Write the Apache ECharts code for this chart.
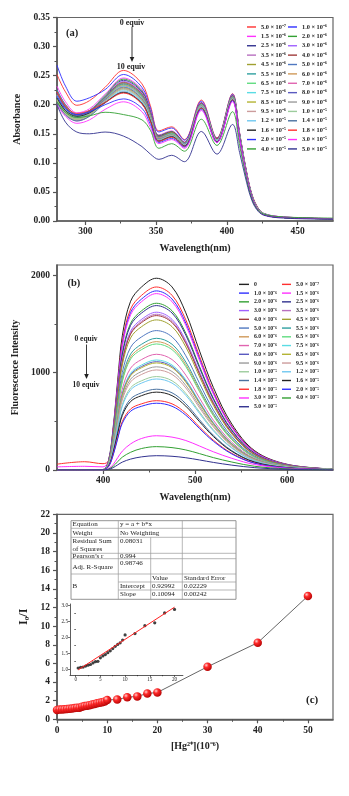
<!DOCTYPE html>
<html><head><meta charset="utf-8">
<script src="https://cdn.jsdelivr.net/npm/echarts@6/dist/echarts.min.js"></script>
<style>html,body{margin:0;padding:0;background:#fff}#c{width:349px;height:796px}</style>
</head><body><div id="c"></div><script>
// ---------------- DATA ----------------
const CONC_LABELS = ['0','5.0 × 10⁻⁷','1.0 × 10⁻⁶','1.5 × 10⁻⁶','2.0 × 10⁻⁶','2.5 × 10⁻⁶','3.0 × 10⁻⁶','3.5 × 10⁻⁶','4.0 × 10⁻⁶','4.5 × 10⁻⁶','5.0 × 10⁻⁶','5.5 × 10⁻⁶','6.0 × 10⁻⁶','6.5 × 10⁻⁶','7.0 × 10⁻⁶','7.5 × 10⁻⁶','8.0 × 10⁻⁶','8.5 × 10⁻⁶','9.0 × 10⁻⁶','9.5 × 10⁻⁶','1.0 × 10⁻⁵','1.2 × 10⁻⁵','1.4 × 10⁻⁵','1.6 × 10⁻⁵','1.8 × 10⁻⁵','2.0 × 10⁻⁵','3.0 × 10⁻⁵','4.0 × 10⁻⁵','5.0 × 10⁻⁵'];

// (a) absorption: wavelengths and one spectrum per concentration (index 1..28 of CONC_LABELS)
const WL_A = [280,286,294,303,314,327,340,346,352,361,370,382,393,404,409,413,417,421,426,440,475];
const ABS_SPECTRA = [
 [0.252,0.222,0.199,0.207,0.230,0.259,0.236,0.198,0.155,0.162,0.140,0.208,0.143,0.219,0.152,0.097,0.052,0.027,0.013,0.007,0.004],
 [0.268,0.232,0.206,0.212,0.226,0.252,0.230,0.194,0.153,0.160,0.139,0.206,0.142,0.218,0.151,0.096,0.051,0.026,0.013,0.007,0.004],
 [0.232,0.205,0.186,0.193,0.218,0.246,0.226,0.190,0.148,0.155,0.136,0.204,0.141,0.216,0.150,0.095,0.050,0.026,0.013,0.007,0.004],
 [0.225,0.200,0.183,0.190,0.216,0.244,0.224,0.188,0.147,0.154,0.135,0.203,0.141,0.216,0.150,0.095,0.050,0.026,0.013,0.006,0.004],
 [0.220,0.196,0.180,0.188,0.214,0.242,0.222,0.187,0.146,0.153,0.135,0.203,0.140,0.215,0.149,0.094,0.050,0.025,0.012,0.006,0.004],
 [0.214,0.190,0.175,0.184,0.212,0.240,0.220,0.185,0.145,0.152,0.134,0.202,0.140,0.215,0.149,0.094,0.049,0.025,0.012,0.006,0.004],
 [0.208,0.186,0.172,0.181,0.211,0.239,0.219,0.184,0.144,0.152,0.134,0.202,0.140,0.214,0.148,0.093,0.049,0.025,0.012,0.006,0.004],
 [0.222,0.197,0.182,0.189,0.213,0.238,0.218,0.184,0.145,0.153,0.135,0.202,0.141,0.215,0.149,0.094,0.049,0.025,0.012,0.006,0.004],
 [0.218,0.194,0.180,0.187,0.212,0.237,0.217,0.183,0.144,0.152,0.134,0.201,0.140,0.214,0.148,0.093,0.049,0.025,0.012,0.006,0.004],
 [0.226,0.200,0.184,0.190,0.213,0.236,0.216,0.182,0.144,0.151,0.134,0.201,0.140,0.214,0.148,0.093,0.049,0.025,0.012,0.006,0.004],
 [0.212,0.189,0.177,0.185,0.211,0.235,0.215,0.181,0.143,0.151,0.133,0.200,0.139,0.213,0.147,0.093,0.048,0.025,0.012,0.006,0.004],
 [0.216,0.192,0.179,0.186,0.211,0.234,0.214,0.180,0.143,0.150,0.133,0.200,0.139,0.213,0.147,0.092,0.048,0.024,0.012,0.006,0.004],
 [0.210,0.187,0.176,0.184,0.210,0.233,0.213,0.180,0.142,0.150,0.133,0.200,0.139,0.213,0.147,0.092,0.048,0.024,0.012,0.006,0.004],
 [0.206,0.184,0.173,0.182,0.209,0.232,0.212,0.179,0.142,0.149,0.132,0.199,0.139,0.212,0.146,0.092,0.048,0.024,0.012,0.006,0.004],
 [0.214,0.190,0.178,0.185,0.209,0.231,0.211,0.178,0.141,0.149,0.132,0.199,0.139,0.212,0.146,0.092,0.048,0.024,0.012,0.006,0.004],
 [0.220,0.195,0.181,0.187,0.209,0.230,0.210,0.177,0.141,0.148,0.132,0.198,0.138,0.212,0.146,0.091,0.047,0.024,0.012,0.006,0.004],
 [0.209,0.186,0.175,0.183,0.207,0.229,0.209,0.177,0.140,0.148,0.131,0.198,0.138,0.211,0.145,0.091,0.047,0.024,0.012,0.006,0.004],
 [0.205,0.183,0.173,0.181,0.206,0.228,0.208,0.176,0.140,0.147,0.131,0.197,0.138,0.211,0.145,0.091,0.047,0.024,0.012,0.006,0.004],
 [0.213,0.189,0.177,0.184,0.206,0.227,0.207,0.175,0.139,0.147,0.131,0.197,0.137,0.210,0.145,0.090,0.047,0.024,0.012,0.006,0.004],
 [0.208,0.185,0.175,0.182,0.205,0.226,0.206,0.175,0.139,0.146,0.130,0.196,0.137,0.210,0.144,0.090,0.047,0.024,0.012,0.006,0.004],
 [0.216,0.192,0.180,0.186,0.205,0.224,0.205,0.174,0.138,0.146,0.130,0.196,0.137,0.209,0.144,0.090,0.046,0.023,0.012,0.006,0.004],
 [0.204,0.182,0.172,0.180,0.203,0.222,0.203,0.173,0.138,0.145,0.129,0.195,0.136,0.209,0.143,0.089,0.046,0.023,0.011,0.006,0.004],
 [0.212,0.190,0.180,0.186,0.204,0.221,0.202,0.172,0.137,0.145,0.129,0.194,0.136,0.208,0.143,0.089,0.046,0.023,0.011,0.006,0.004],
 [0.222,0.198,0.185,0.190,0.204,0.220,0.201,0.171,0.137,0.144,0.128,0.194,0.135,0.208,0.142,0.089,0.046,0.023,0.011,0.006,0.004],
 [0.215,0.193,0.183,0.188,0.200,0.210,0.194,0.166,0.135,0.142,0.127,0.192,0.135,0.207,0.142,0.088,0.046,0.023,0.011,0.006,0.004],
 [0.200,0.180,0.168,0.174,0.192,0.205,0.188,0.161,0.133,0.140,0.125,0.190,0.135,0.205,0.141,0.088,0.045,0.023,0.011,0.006,0.004],
 [0.205,0.187,0.178,0.181,0.187,0.183,0.174,0.156,0.125,0.133,0.120,0.175,0.130,0.188,0.130,0.082,0.043,0.022,0.012,0.007,0.005],
 [0.200,0.170,0.153,0.150,0.153,0.146,0.128,0.115,0.106,0.113,0.102,0.154,0.115,0.166,0.118,0.076,0.040,0.020,0.010,0.005,0.003]
];

// (b) fluorescence: wavelengths and one spectrum per concentration (index 0..28 of CONC_LABELS)
const WL_B = [350,380,400,406,411,416,421,430,442,458,475,490,505,520,540,565,600,650];
const FL_SPECTRA = [
 [0,0,5,99,433,926,1379,1734,1881,1970,1881,1615,1221,847,473,197,59,10],
 [60,85,65,94,414,884,1316,1654,1795,1880,1795,1542,1166,808,451,188,56,9],
 [0,0,4,92,405,865,1288,1619,1757,1840,1757,1509,1141,791,442,184,55,9],
 [32,38,32,91,399,852,1268,1595,1730,1812,1730,1486,1123,779,435,181,54,9],
 [0,0,4,86,377,805,1199,1507,1636,1713,1636,1405,1062,737,411,171,51,9],
 [0,0,4,84,372,794,1182,1486,1613,1689,1613,1385,1047,726,405,169,51,8],
 [0,0,4,81,357,762,1135,1426,1548,1621,1548,1329,1005,697,389,162,49,8],
 [0,0,4,80,352,752,1120,1408,1528,1600,1528,1312,992,688,384,160,48,8],
 [0,0,4,79,349,745,1110,1396,1515,1586,1515,1301,983,682,381,159,48,8],
 [0,0,4,77,339,725,1079,1357,1473,1542,1473,1264,956,663,370,154,46,8],
 [0,0,3,72,315,673,1002,1260,1368,1432,1368,1174,888,616,344,143,43,7],
 [0,0,3,68,298,636,947,1191,1292,1353,1292,1109,839,582,325,135,41,7],
 [0,0,3,66,290,620,923,1161,1260,1319,1260,1082,818,567,317,132,40,7],
 [0,0,3,65,285,609,907,1140,1237,1295,1237,1062,803,557,311,130,39,6],
 [0,0,3,59,262,559,832,1046,1135,1189,1135,975,737,511,285,119,36,6],
 [0,0,3,57,249,531,791,994,1079,1130,1079,927,701,486,271,113,34,6],
 [0,0,3,56,245,523,779,979,1063,1113,1063,913,690,479,267,111,33,6],
 [0,0,3,55,242,517,770,968,1051,1100,1051,902,682,473,264,110,33,6],
 [0,0,3,53,233,498,742,933,1012,1060,1012,869,657,456,254,106,32,5],
 [0,0,3,51,226,483,720,905,982,1028,982,843,637,442,247,103,31,5],
 [0,0,2,48,211,451,672,845,917,960,917,787,595,413,230,96,29,5],
 [0,0,2,47,206,439,655,823,893,935,893,767,580,402,224,94,28,5],
 [0,0,2,42,183,390,581,730,793,830,793,681,515,357,199,83,25,4],
 [0,0,2,40,176,376,560,704,764,800,764,656,496,344,192,80,24,4],
 [0,0,2,36,157,335,498,627,680,712,680,584,441,306,171,71,21,4],
 [0,0,2,34,151,322,480,604,655,686,655,563,425,295,165,69,21,3],
 [0,0,1,14,56,127,194,268,324,352,338,303,246,187,120,56,18,3],
 [0,0,1,10,38,86,132,182,221,240,230,206,168,127,82,38,12,2],
 [0,0,1,6,24,53,81,112,135,147,141,126,103,78,50,24,7,1]
];

// (c) Stern-Volmer data
const HG_CONC = [0,0.5,1,1.5,2,2.5,3,3.5,4,4.5,5,5.5,6,6.5,7,7.5,8,8.5,9,9.5,10,12,14,16,18,20,30,40,50];
const I0_I    = [1.00,1.04,1.06,1.07,1.10,1.13,1.15,1.20,1.24,1.25,1.36,1.42,1.46,1.52,1.58,1.65,1.72,1.78,1.83,1.92,2.08,2.12,2.37,2.46,2.77,2.88,5.64,8.22,13.23];
const INSET_FIRST = 1, INSET_LAST = 25;           // inset uses 0.5 ... 20 (x10^-6 M)
const FIT_LINE = [[0.5, 0.98], [20, 2.95]];       // linear fit drawn in the inset

// tick values
const A_X_MAJOR = [300,350,400,450], A_X_MINOR = [325,375,425];
const A_Y_MAJOR = [0,0.05,0.10,0.15,0.20,0.25,0.30,0.35], A_Y_MINOR = [0.025,0.075,0.125,0.175,0.225,0.275,0.325];
const B_X_MAJOR = [400,500,600], B_X_MINOR = [450,550];
const B_Y_MAJOR = [0,1000,2000], B_Y_MINOR = [500,1500];
const C_X_MAJOR = [0,10,20,30,40,50], C_X_MINOR = [5,15,25,35,45];
const C_Y_MAJOR = [0,2,4,6,8,10,12,14,16,18,20,22], C_Y_MINOR = [1,3,5,7,9,11,13,15,17,19,21];
const IN_X_MAJOR = [0,5,10,15,20], IN_X_MINOR = [2.5,7.5,12.5,17.5];
const IN_Y_MAJOR = [1.0,1.5,2.0,2.5,3.0], IN_Y_MINOR = [1.25,1.75,2.25,2.75];

// ---------------- STYLE ----------------
const COLORS = ['#222222','#ff3030','#2f2fff','#ff30ff','#33a033','#32328f','#a060ff','#b870c0','#a03c3c','#a0a030',
                '#5078c0','#2fa0a0','#d09a5a','#60dc80','#e064b0','#5adce4','#5a5ac0','#b4b434','#9c9c9c','#cc9c9c',
                '#9ccc9c','#70c8f0','#4a72a0'];
const colorOf = k => COLORS[k % COLORS.length];
const SERIF = '"Liberation Serif","Times New Roman",serif';
const AX = '#555';
const plain = v => String(v);

function axes(dim, gridIndex, min, max, majors, minors, o) {
  const pos = dim === 'x' ? 'bottom' : 'left';
  const main = {
    type: 'value', gridIndex, min, max, position: pos,
    axisLine: {show: true, onZero: false, lineStyle: {color: o.lineColor || AX, width: o.lineWidth || 1.6}},
    axisTick: {show: true, customValues: majors, length: o.tick || 4, lineStyle: {color: o.lineColor || AX, width: o.tickWidth || 1.2}},
    axisLabel: {show: true, customValues: majors, margin: o.margin, formatter: o.fmt || plain,
      fontFamily: SERIF, fontWeight: o.labelWeight || 'bold', fontSize: o.fontSize || 9.5, color: '#222'},
    splitLine: {show: false},
    name: o.name || '', nameLocation: 'middle', nameGap: o.nameGap || 0, nameRotate: dim === 'y' ? 90 : 0,
    nameTextStyle: {fontFamily: SERIF, fontWeight: 'bold', fontSize: o.nameSize || 10, color: '#222'}
  };
  const minor = {
    type: 'value', gridIndex, min, max, position: pos, offset: 0,
    axisLine: {show: false}, axisLabel: {show: false}, splitLine: {show: false},
    axisTick: {show: true, customValues: minors, length: o.minorTick || 2.5, lineStyle: {color: o.lineColor || AX, width: 1}}
  };
  return [main, minor];
}

const xAxis = [
  ...axes('x', 0, 280, 475, A_X_MAJOR, A_X_MINOR, {margin: 6, name: 'Wavelength(nm)', nameGap: 22}),
  ...axes('x', 1, 350, 650, B_X_MAJOR, B_X_MINOR, {margin: 6, name: 'Wavelength(nm)', nameGap: 22}),
  ...axes('x', 2, 0, 55, C_X_MAJOR, C_X_MINOR, {margin: 6, name: '[Hg²⁺](10⁻⁶)', nameGap: 22}),
  ...axes('x', 3, -1.15, 21.7, IN_X_MAJOR, IN_X_MINOR, {margin: 2.5, fontSize: 5.2, labelWeight: 'normal', tick: 2, minorTick: 1.2, lineWidth: 0.8, tickWidth: 0.7, lineColor: '#333'})
];
const yAxis = [
  ...axes('y', 0, 0, 0.35, A_Y_MAJOR, A_Y_MINOR, {margin: 7, fmt: v => v.toFixed(2), name: 'Absorbance', nameGap: 34}),
  ...axes('y', 1, 0, 2106, B_Y_MAJOR, B_Y_MINOR, {margin: 7, name: 'Fluorescence Intensity', nameGap: 34}),
  ...axes('y', 2, 0, 22, C_Y_MAJOR, C_Y_MINOR, {margin: 7, name: 'I₀/I', nameGap: 22, nameSize: 12}),
  ...axes('y', 3, 0.82, 3.05, IN_Y_MAJOR, IN_Y_MINOR, {margin: 2, fontSize: 5.2, labelWeight: 'normal', fmt: v => v.toFixed(1), tick: 2, minorTick: 1.2, lineWidth: 0.8, tickWidth: 0.7, lineColor: '#333'})
];

const grid = [
  {left: 57, top: 17.5, width: 276, height: 203.5, show: true, borderColor: '#666', borderWidth: 1.2, backgroundColor: 'transparent'},
  {left: 57, top: 265, width: 276, height: 205, show: true, borderColor: '#666', borderWidth: 1.2, backgroundColor: 'transparent'},
  {left: 57, top: 514.3, width: 276, height: 205, show: true, borderColor: '#666', borderWidth: 1.2, backgroundColor: 'transparent'},
  {left: 70, top: 604, width: 112.9, height: 71, show: false}
];

const series = [];
ABS_SPECTRA.forEach((vals, i) => {
  const k = i + 1;
  series.push({type: 'line', name: 'A' + k, xAxisIndex: 0, yAxisIndex: 0, smooth: 0.35, symbol: 'none', silent: true,
    data: WL_A.map((w, j) => [w, vals[j]]), lineStyle: {width: 0.9, color: colorOf(k)}, itemStyle: {color: colorOf(k)}});
});
FL_SPECTRA.forEach((vals, k) => {
  series.push({type: 'line', name: 'B' + k, xAxisIndex: 2, yAxisIndex: 2, smooth: 0.35, symbol: 'none', silent: true,
    data: WL_B.map((w, j) => [w, vals[j]]), lineStyle: {width: 1, color: colorOf(k)}, itemStyle: {color: colorOf(k)}});
});
series.push({type: 'line', name: 'ratio', xAxisIndex: 4, yAxisIndex: 4, symbol: 'circle', symbolSize: 8.5, silent: true,
  data: HG_CONC.map((c, i) => [c, I0_I[i]]), lineStyle: {color: '#555', width: 0.9},
  itemStyle: {color: {type: 'radial', x: 0.35, y: 0.32, r: 0.75, colorStops: [{offset: 0, color: '#ffd0d0'}, {offset: 0.35, color: '#ff2a2a'}, {offset: 1, color: '#b00000'}]}}});
series.push({type: 'line', name: 'fit', xAxisIndex: 6, yAxisIndex: 6, symbol: 'none', silent: true,
  data: FIT_LINE, lineStyle: {color: '#ff2020', width: 1}});
series.push({type: 'scatter', name: 'inset', xAxisIndex: 6, yAxisIndex: 6, symbol: 'circle', symbolSize: 3.2, silent: true,
  data: HG_CONC.slice(INSET_FIRST, INSET_LAST + 1).map((c, i) => [c, I0_I[INSET_FIRST + i]]), itemStyle: {color: '#111'}});

function legendCol(left, top, ks, prefix, fontSize, lh, iw) {
  return {orient: 'vertical', left, top, padding: 0, itemGap: 0, itemWidth: iw, itemHeight: 1.4, icon: 'rect',
    selectedMode: false, data: ks.map(k => prefix + k), formatter: n => CONC_LABELS[+n.slice(1)],
    textStyle: {fontFamily: SERIF, fontWeight: 'bold', fontSize, lineHeight: lh, color: '#222'}};
}
const odd = [], even = [];
for (let k = 0; k <= 28; k++) (k % 2 ? odd : even).push(k);
const legend = [
  legendCol(247, 22.3, odd, 'A', 6.3, 9.38, 9),
  legendCol(288, 22.3, even.filter(k => k > 0), 'A', 6.3, 9.38, 9),
  legendCol(239, 280, even, 'B', 5.8, 8.74, 10),
  legendCol(282, 280, odd, 'B', 5.8, 8.74, 9)
];

// annotations and the fit table
const T = (text, x, y, font, align) => ({type: 'text', x, y, silent: true,
  style: {text, font, fill: '#222', textAlign: align || 'left', textVerticalAlign: 'middle'}});
const L = (x1, y1, x2, y2, w, c) => ({type: 'line', silent: true, shape: {x1, y1, x2, y2}, style: {stroke: c || '#999', lineWidth: w || 0.7}});
const bold = s => 'bold ' + s + 'px ' + SERIF;
const reg = s => s + 'px ' + SERIF;
const arrow = (x, y1, y2) => [L(x, y1, x, y2 - 3, 0.9, '#222'),
  {type: 'polygon', silent: true, shape: {points: [[x - 2.3, y2 - 5], [x + 2.3, y2 - 5], [x, y2]]}, style: {fill: '#222'}}];

const tx = [71, 118.3, 150.7, 182.3, 236];
const ty = [520.7, 528.3, 537.3, 553.3, 558.7, 574, 582, 590, 599.3];
const graphic = [
  T('(a)', 66, 33.5, bold(10.5)),
  T('0 equiv', 132, 23, bold(8), 'center'),
  ...arrow(132, 27, 62),
  T('10 equiv', 131, 66.5, bold(8), 'center'),
  T('(b)', 67.5, 283.5, bold(10.5)),
  T('0 equiv', 86, 339.5, bold(7.5), 'center'),
  ...arrow(86.5, 344.5, 379),
  T('10 equiv', 86, 385, bold(7.5), 'center'),
  T('(c)', 306, 700.5, bold(11)),
  {type: 'rect', silent: true, shape: {x: tx[0], y: ty[0], width: tx[4] - tx[0], height: ty[8] - ty[0]}, style: {fill: '#fff', stroke: '#888', lineWidth: 0.9}},
  L(tx[0], ty[1], tx[4], ty[1]), L(tx[0], ty[2], tx[4], ty[2]), L(tx[0], ty[3], tx[4], ty[3]),
  L(tx[0], ty[4], tx[4], ty[4]), L(tx[0], ty[5], tx[4], ty[5]),
  L(tx[1], ty[6], tx[4], ty[6]), L(tx[1], ty[7], tx[4], ty[7]),
  L(tx[1], ty[0], tx[1], ty[8]), L(tx[2], ty[2], tx[2], ty[8]), L(tx[3], ty[0], tx[3], ty[8]),
  T('Equation', 72.5, 524.5, reg(7)), T('y = a + b*x', 120, 524.5, reg(7)),
  T('Weight', 72.5, 533, reg(7)), T('No Weighting', 120, 533, reg(7)),
  T('Residual Sum', 72.5, 541.5, reg(7)), T('of Squares', 72.5, 549.5, reg(7)), T('0.08031', 120, 541.5, reg(7)),
  T('Pearson’s r', 72.5, 556, reg(7)), T('0.994', 120, 556, reg(7)),
  T('Adj. R-Square', 72.5, 567, reg(7)), T('0.98746', 120, 563, reg(7)),
  T('Value', 152, 578, reg(7)), T('Standard Error', 184, 578, reg(7)),
  T('B', 72.5, 586.5, reg(7)),
  T('Intercept', 120, 586, reg(7)), T('0.92992', 152, 586, reg(7)), T('0.02229', 184, 586, reg(7)),
  T('Slope', 120, 594.5, reg(7)), T('0.10094', 152, 594.5, reg(7)), T('0.00242', 184, 594.5, reg(7))
];

const chart = echarts.init(document.getElementById('c'), null, {renderer: 'canvas', width: 349, height: 796});
chart.setOption({backgroundColor: '#fff', animation: false, grid, xAxis, yAxis, series, legend, graphic});
</script></body></html>
